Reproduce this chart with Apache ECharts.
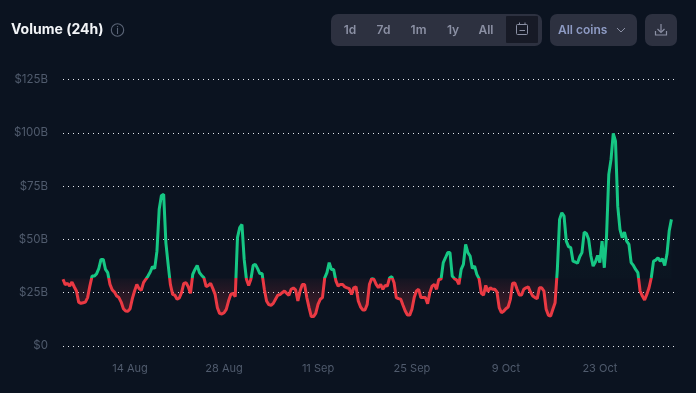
<!DOCTYPE html>
<html><head><meta charset="utf-8">
<style>html,body{margin:0;padding:0;background:#0b1320}#c{width:696px;height:393px}</style>
<script src="https://cdn.jsdelivr.net/npm/echarts@6/dist/echarts.min.js"></script>
</head><body><div id="c"></div>
<script>
// Volume in $B, one reading every 8 hours from 4 Aug
const volumes = [
31.3,28.8,29.4,28.1,30,27.8,25.8,20.6,20,20.3,20.6,22.7,28.1,32.8,32.8,33.8,36.3,40.6,40.6,35.9,34.4,28.9,26.3,25.3,23.4,22.7,20.6,17.5,16.4,16.3,17.5,22.2,25.8,28.9,26.9,26.1,29.7,31.3,32.8,34.7,37.2,36.3,44.5,64.1,70.6,71.1,48.4,38.3,28.9,24.2,23.8,21.9,22.5,25,29.4,29.7,27.8,24.7,33.6,35.9,37.8,34.4,33.1,32,27.8,28.4,29.4,26.9,24.2,18,15.3,15,15.6,17.2,21.1,24.2,24.7,23.1,50.8,55.5,57,40.6,31.3,28.4,31.3,37.8,38.3,36.3,34,34,26.6,21.1,19.4,
19.1,20,21.9,23.8,24.1,25,25.8,24.7,23.8,26.6,27.2,26.3,21.1,25.8,28.9,28.9,22.7,18,13.8,13.8,15.3,19.5,21.9,22.7,32,34.4,39.1,35.9,35.9,30.5,28.1,28.9,28.9,27.7,27.3,26.9,24.2,27.3,27.8,21.1,18.4,16.9,16.9,19.5,28.9,31.6,31.3,28.9,27.3,28.9,26.6,28.4,28.1,32,32.5,29.7,22.7,22.2,21.9,19.1,16.4,14.5,14.5,17.2,22.7,25.8,26.6,22.7,22.7,22.7,19.8,25,28.1,28.9,26.6,31.3,31.3,39.1,41.4,43.8,43.8,32.8,31.6,30.9,28.9,35.9,38.3,47.7,43.8,42.2,36.3,37.5,33.6,
31.6,24.7,23.9,28.4,25.5,27.3,26.6,26.6,25.3,18,15.6,16.3,17.5,18.3,21.9,29.4,29.5,26.6,23.9,23.9,26.6,27.3,27.7,25.3,23.4,22.7,22.2,27.3,27.3,25.8,17.2,14.4,14.1,17.2,20.3,35.9,59.4,62.5,60.9,49.2,46.6,46.1,39.8,39.4,38.8,41.9,43.8,53.4,52.8,50,42.2,37.5,39.4,42.5,39.1,49.2,36.7,51.6,80.5,87.5,99.7,96.1,65.6,54.7,50.8,53.4,49.2,47.7,39.1,37.8,35.9,34.4,25.8,23.4,21.6,24.2,27.3,32,39.8,40.3,41.4,39.8,40.9,37.8,43,53.9,59.4
];
const threshold = 31.7;
const yTicks = [0,25,50,75,100,125];
const xTickLabels = ['14 Aug','28 Aug','11 Sep','25 Sep','9 Oct','23 Oct'];
const xTickDays = [10,24,38,52,66,80]; // days after 4 Aug
const rangeButtons = ['1d','7d','1m','1y','All'];

const pts = volumes.map((v,i)=>[i/3,v]);
const RED='#ea3943', GREEN='#16c784', BG='#0b1320', BTN='#2d3140', MUTED='#8b90a4';
const font='Inter';

const btnX=[350,383.5,418.5,453,486];
const graphic=[
 {type:'rect',shape:{x:331,y:14,width:211,height:32,r:7},style:{fill:BTN}},
 {type:'rect',shape:{x:506,y:16,width:32,height:27,r:1},style:{fill:'#171a26'}},
 {type:'rect',shape:{x:550,y:14,width:87,height:32,r:7},style:{fill:BTN}},
 {type:'rect',shape:{x:645,y:14,width:32,height:32,r:7},style:{fill:BTN}},
 {type:'text',style:{x:558,y:30,text:'All coins',fill:'#8e9bc4',font:'600 12px '+font,textVerticalAlign:'middle'}},
 {type:'polyline',shape:{points:[[617,28],[621,32],[625,28]]},style:{fill:null,stroke:'#8b90a4',lineWidth:1}},
 {type:'rect',shape:{x:516.5,y:24.5,width:11,height:10,r:1},style:{fill:null,stroke:MUTED,lineWidth:1}},
 {type:'line',shape:{x1:519.5,y1:22.5,x2:519.5,y2:25},style:{stroke:MUTED,lineWidth:1}},
 {type:'line',shape:{x1:525,y1:22.5,x2:525,y2:25},style:{stroke:MUTED,lineWidth:1}},
 {type:'line',shape:{x1:519.5,y1:30.5,x2:525,y2:30.5},style:{stroke:MUTED,lineWidth:1}},
 {type:'polyline',shape:{points:[[655.5,31],[655.5,35],[666.5,35],[666.5,31]]},style:{fill:null,stroke:MUTED,lineWidth:1.2}},
 {type:'line',shape:{x1:661,y1:24,x2:661,y2:32},style:{stroke:MUTED,lineWidth:1.2}},
 {type:'polyline',shape:{points:[[657.5,29],[661,32.5],[664.5,29]]},style:{fill:null,stroke:MUTED,lineWidth:1.2}},
 {type:'circle',shape:{cx:117.5,cy:30,r:6.2},style:{fill:null,stroke:'#5b6577',lineWidth:1.1}},
 {type:'text',style:{x:117.5,y:30.5,text:'i',fill:'#5b6577',font:'500 10px '+font,textAlign:'center',textVerticalAlign:'middle'}}
];
rangeButtons.forEach((b,i)=>graphic.push({type:'text',style:{x:btnX[i],y:30,text:b,fill:MUTED,font:'600 12px '+font,textAlign:'center',textVerticalAlign:'middle'}}));

const chart=echarts.init(document.getElementById('c'),null,{renderer:'canvas'});
chart.setOption({
 animation:false,
 backgroundColor:BG,
 title:{text:'Volume (24h)',left:11,top:23,padding:0,textStyle:{color:'#f2f4f7',fontFamily:font,fontSize:14,fontWeight:700}},
 grid:{left:63,right:21,top:79.5,bottom:47,containLabel:false},
 xAxis:{type:'value',min:0,max:91.2,
  axisLine:{show:false},axisTick:{show:false},splitLine:{show:false},
  axisLabel:{customValues:xTickDays,margin:17,color:'#505b6d',fontFamily:font,fontSize:11,hideOverlap:false,
   formatter:v=>{const i=xTickDays.indexOf(v);return i>=0?xTickLabels[i]:'';}}},
 yAxis:{type:'value',min:yTicks[0],max:yTicks[yTicks.length-1],interval:25,
  axisLine:{show:false},axisTick:{show:false},
  splitLine:{show:true,lineStyle:{color:'#e8ebf0',width:1,type:[1,4]}},
  axisLabel:{margin:15,padding:[2,0,0,0],color:'#505b6d',fontFamily:font,fontSize:11.5,formatter:v=>v===0?'$0':'$'+v+'B'}},
 visualMap:{show:false,type:'piecewise',seriesIndex:0,dimension:1,pieces:[{min:0,max:threshold,color:RED},{min:threshold,max:125,color:GREEN}]},
 graphic:graphic,
 series:[
  {type:'line',z:5,data:pts,showSymbol:false,smooth:false,lineStyle:{width:3},silent:true},
  {type:'line',z:2,data:pts.map(p=>[p[0],Math.min(p[1],threshold)]),showSymbol:false,silent:true,lineStyle:{width:0},
   areaStyle:{opacity:1,origin:threshold,color:{type:'linear',x:0,y:0,x2:0,y2:1,colorStops:[{offset:0,color:'rgba(234,57,67,0.04)'},{offset:1,color:'rgba(234,57,67,0.28)'}]}}},
  {type:'line',z:2,data:pts.map(p=>[p[0],Math.max(p[1],threshold)]),showSymbol:false,silent:true,lineStyle:{width:0},
   areaStyle:{opacity:1,origin:threshold,color:{type:'linear',x:0,y:0,x2:0,y2:1,colorStops:[{offset:0,color:'rgba(22,199,132,0.05)'},{offset:1,color:'rgba(22,199,132,0.01)'}]}}}
 ]
});
</script></body></html>
